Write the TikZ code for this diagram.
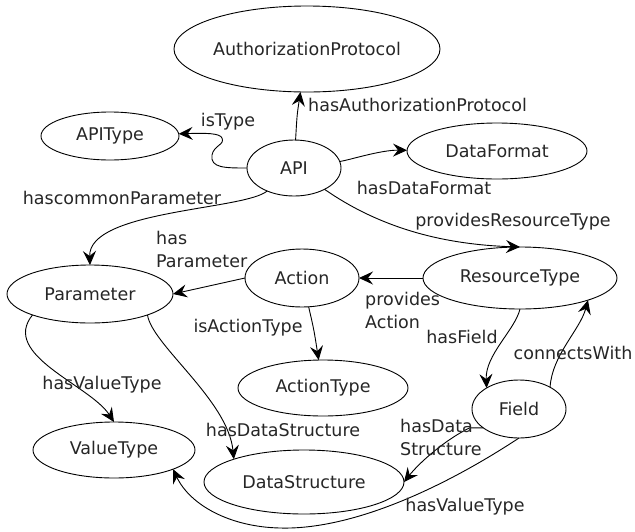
\documentclass[tikz,border=0pt]{standalone}
\usepackage{fontspec}
\setmainfont{DejaVu Sans}
\usetikzlibrary{shapes.geometric,arrows.meta}
\begin{document}
\begin{tikzpicture}[x=1pt,y=-1pt,
  every node/.style={font=\fontsize{17.5}{23}\selectfont, text=black!85},
  ent/.style={draw, ellipse, inner sep=0pt, outer sep=0pt, line width=0.9pt},
  rel/.style={draw, line width=0.9pt, -{Stealth[length=14pt,width=13pt,inset=5pt]}},
  lbl/.style={inner sep=0pt}
]
\useasboundingbox (0,0) rectangle (635,531);

\node[ent, minimum width=266, minimum height=86] (auth) at (307,49) {AuthorizationProtocol};
\node[ent, minimum width=138, minimum height=48] (apitype) at (110,136) {APIType};
\node[ent, minimum width=94, minimum height=56] (api) at (294,168) {API};
\node[ent, minimum width=180, minimum height=56] (dataformat) at (497,151) {DataFormat};
\node[ent, minimum width=166, minimum height=58] (param) at (90,294) {Parameter};
\node[ent, minimum width=114, minimum height=58] (action) at (302,278) {Action};
\node[ent, minimum width=194, minimum height=62] (restype) at (520,278) {ResourceType};
\node[ent, minimum width=170, minimum height=56] (actiontype) at (323,388) {ActionType};
\node[ent, minimum width=94, minimum height=58] (field) at (519,409) {Field};
\node[ent, minimum width=162, minimum height=56] (valuetype) at (114,450) {ValueType};
\node[ent, minimum width=200, minimum height=64] (ds) at (304,482) {DataStructure};

\draw[rel] (api) .. controls (297,115) .. (auth);
\draw[rel] (api) .. controls (225,168) and (210,168) .. (212,155) .. controls (214,145) and (225,145) .. (222,138) .. controls (220,133) and (205,133) .. (apitype);
\draw[rel] (api) .. controls (350,160) and (380,150) .. (dataformat);
\draw[rel] (api) .. controls (245,210) and (88,210) .. (param.north);
\draw[rel] (api) .. controls (390,235) and (460,245) .. (restype.north);
\draw[rel] (action.west) -- (param.east);
\draw[rel] (restype.west) -- (action.east);
\draw[rel] (action) .. controls (314,330) .. (actiontype);
\draw[rel] (param.-160) .. controls (0,355) and (90,385) .. (valuetype.north);
\draw[rel] (param.-20) .. controls (152,345) and (228,400) .. (ds.162);
\draw[rel] (field.-152) -- ++(-14,0) .. controls (445,440) and (420,462) .. (ds.east);
\draw[rel] (field.south) .. controls (440,490) and (350,530) .. (280,528) .. controls (230,527) and (190,505) .. (valuetype.-18);
\draw[rel] (restype.south) .. controls (515,330) and (485,355) .. (field.147);
\draw[rel] (field.35) .. controls (552,355) and (580,330) .. (restype.-18);

\node[lbl, anchor=west] (l1) at (308,105) {hasAuthorizationProtocol};
\node[lbl] (l2) at (228,122) {isType};
\node[lbl] (l3) at (424,188) {hasDataFormat};
\node[lbl] (l4) at (122,198) {hascommonParameter};
\node[lbl] (l5) at (513,222) {providesResourceType};
\node[lbl, anchor=west, align=left] (l6) at (156,249.5) {has\\Parameter};
\node[lbl, anchor=west, align=left] (l7) at (365,310.5) {provides\\Action};
\node[lbl] (l8) at (248,328) {isActionType};
\node[lbl] (l9) at (462,337) {hasField};
\node[lbl] (l10) at (573,353) {connectsWith};
\node[lbl] (l11) at (102,385) {hasValueType};
\node[lbl] (l12) at (283,430) {hasDataStructure};
\node[lbl, anchor=west, align=left] (l13) at (400,437.5) {hasData\\Structure};
\node[lbl] (l14) at (465,507) {hasValueType};
\end{tikzpicture}
\end{document}
